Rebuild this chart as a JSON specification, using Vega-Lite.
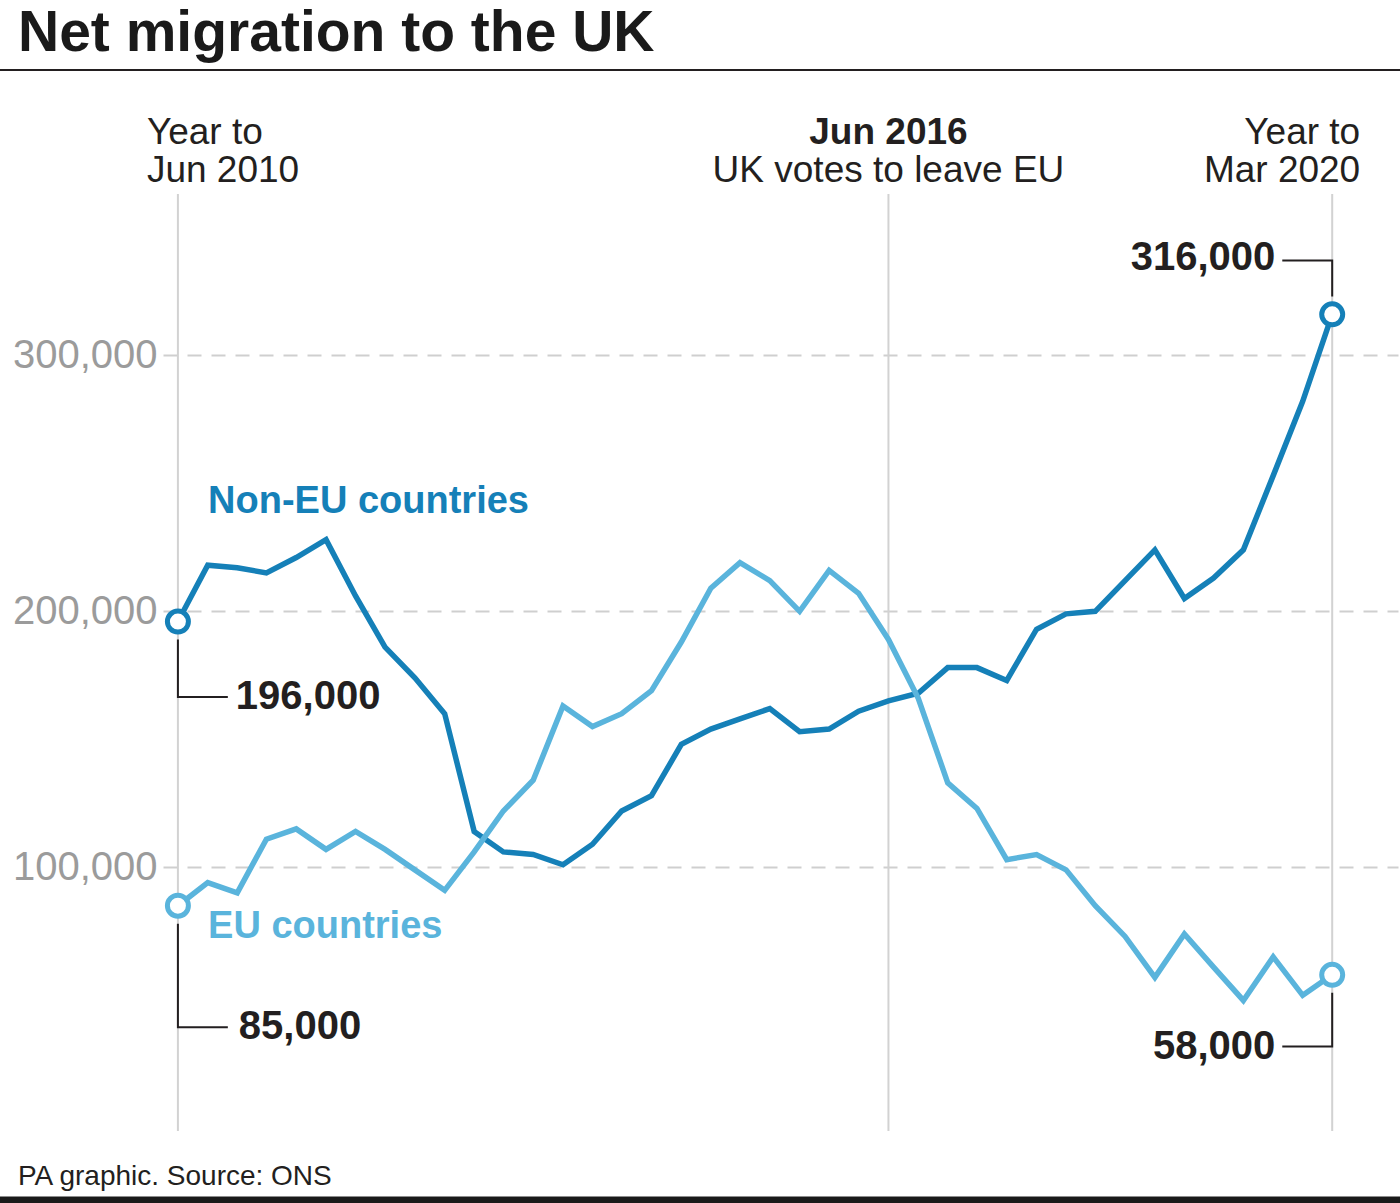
{
  "$schema": "https://vega.github.io/schema/vega-lite/v6.json",
  "width": 1235,
  "height": 937,
  "autosize": {"type": "none"},
  "padding": {"left": 163, "top": 194, "right": 2, "bottom": 72},
  "background": "#ffffff",
  "config": {
    "view": {"stroke": null},
    "font": "Liberation Sans",
    "axisY": {"labelFontSize": 40, "labelColor": "#9b9b9b", "labelFont": "Liberation Sans", "labelExpr": "format(datum.value, ',')", "ticks": false, "domain": false, "grid": true, "gridDash": [14, 10], "gridColor": "#cfcfcf", "gridWidth": 2, "labelPadding": 6}
  },
  "title": {"text": "Net migration to the UK", "anchor": "start", "frame": "group", "dx": -145, "fontSize": 57, "fontWeight": "bold", "color": "#1a1a1a", "font": "Liberation Sans", "offset": 6},
  "datasets": {
    "migration": [
      {"date": "2010-06-01", "region": "Non-EU countries", "value": 196000},
      {"date": "2010-09-01", "region": "Non-EU countries", "value": 218000},
      {"date": "2010-12-01", "region": "Non-EU countries", "value": 217000},
      {"date": "2011-03-01", "region": "Non-EU countries", "value": 215000},
      {"date": "2011-06-01", "region": "Non-EU countries", "value": 221000},
      {"date": "2011-09-01", "region": "Non-EU countries", "value": 228000},
      {"date": "2011-12-01", "region": "Non-EU countries", "value": 206000},
      {"date": "2012-03-01", "region": "Non-EU countries", "value": 186000},
      {"date": "2012-06-01", "region": "Non-EU countries", "value": 174000},
      {"date": "2012-09-01", "region": "Non-EU countries", "value": 160000},
      {"date": "2012-12-01", "region": "Non-EU countries", "value": 114000},
      {"date": "2013-03-01", "region": "Non-EU countries", "value": 106000},
      {"date": "2013-06-01", "region": "Non-EU countries", "value": 105000},
      {"date": "2013-09-01", "region": "Non-EU countries", "value": 101000},
      {"date": "2013-12-01", "region": "Non-EU countries", "value": 109000},
      {"date": "2014-03-01", "region": "Non-EU countries", "value": 122000},
      {"date": "2014-06-01", "region": "Non-EU countries", "value": 128000},
      {"date": "2014-09-01", "region": "Non-EU countries", "value": 148000},
      {"date": "2014-12-01", "region": "Non-EU countries", "value": 154000},
      {"date": "2015-03-01", "region": "Non-EU countries", "value": 158000},
      {"date": "2015-06-01", "region": "Non-EU countries", "value": 162000},
      {"date": "2015-09-01", "region": "Non-EU countries", "value": 153000},
      {"date": "2015-12-01", "region": "Non-EU countries", "value": 154000},
      {"date": "2016-03-01", "region": "Non-EU countries", "value": 161000},
      {"date": "2016-06-01", "region": "Non-EU countries", "value": 165000},
      {"date": "2016-09-01", "region": "Non-EU countries", "value": 168000},
      {"date": "2016-12-01", "region": "Non-EU countries", "value": 178000},
      {"date": "2017-03-01", "region": "Non-EU countries", "value": 178000},
      {"date": "2017-06-01", "region": "Non-EU countries", "value": 173000},
      {"date": "2017-09-01", "region": "Non-EU countries", "value": 193000},
      {"date": "2017-12-01", "region": "Non-EU countries", "value": 199000},
      {"date": "2018-03-01", "region": "Non-EU countries", "value": 200000},
      {"date": "2018-06-01", "region": "Non-EU countries", "value": 212000},
      {"date": "2018-09-01", "region": "Non-EU countries", "value": 224000},
      {"date": "2018-12-01", "region": "Non-EU countries", "value": 205000},
      {"date": "2019-03-01", "region": "Non-EU countries", "value": 213000},
      {"date": "2019-06-01", "region": "Non-EU countries", "value": 224000},
      {"date": "2019-09-01", "region": "Non-EU countries", "value": 253000},
      {"date": "2019-12-01", "region": "Non-EU countries", "value": 282000},
      {"date": "2020-03-01", "region": "Non-EU countries", "value": 316000},
      {"date": "2010-06-01", "region": "EU countries", "value": 85000},
      {"date": "2010-09-01", "region": "EU countries", "value": 94000},
      {"date": "2010-12-01", "region": "EU countries", "value": 90000},
      {"date": "2011-03-01", "region": "EU countries", "value": 111000},
      {"date": "2011-06-01", "region": "EU countries", "value": 115000},
      {"date": "2011-09-01", "region": "EU countries", "value": 107000},
      {"date": "2011-12-01", "region": "EU countries", "value": 114000},
      {"date": "2012-03-01", "region": "EU countries", "value": 107000},
      {"date": "2012-06-01", "region": "EU countries", "value": 99000},
      {"date": "2012-09-01", "region": "EU countries", "value": 91000},
      {"date": "2012-12-01", "region": "EU countries", "value": 106000},
      {"date": "2013-03-01", "region": "EU countries", "value": 122000},
      {"date": "2013-06-01", "region": "EU countries", "value": 134000},
      {"date": "2013-09-01", "region": "EU countries", "value": 163000},
      {"date": "2013-12-01", "region": "EU countries", "value": 155000},
      {"date": "2014-03-01", "region": "EU countries", "value": 160000},
      {"date": "2014-06-01", "region": "EU countries", "value": 169000},
      {"date": "2014-09-01", "region": "EU countries", "value": 188000},
      {"date": "2014-12-01", "region": "EU countries", "value": 209000},
      {"date": "2015-03-01", "region": "EU countries", "value": 219000},
      {"date": "2015-06-01", "region": "EU countries", "value": 212000},
      {"date": "2015-09-01", "region": "EU countries", "value": 200000},
      {"date": "2015-12-01", "region": "EU countries", "value": 216000},
      {"date": "2016-03-01", "region": "EU countries", "value": 207000},
      {"date": "2016-06-01", "region": "EU countries", "value": 189000},
      {"date": "2016-09-01", "region": "EU countries", "value": 166000},
      {"date": "2016-12-01", "region": "EU countries", "value": 133000},
      {"date": "2017-03-01", "region": "EU countries", "value": 123000},
      {"date": "2017-06-01", "region": "EU countries", "value": 103000},
      {"date": "2017-09-01", "region": "EU countries", "value": 105000},
      {"date": "2017-12-01", "region": "EU countries", "value": 99000},
      {"date": "2018-03-01", "region": "EU countries", "value": 85000},
      {"date": "2018-06-01", "region": "EU countries", "value": 73000},
      {"date": "2018-09-01", "region": "EU countries", "value": 57000},
      {"date": "2018-12-01", "region": "EU countries", "value": 74000},
      {"date": "2019-03-01", "region": "EU countries", "value": 61000},
      {"date": "2019-06-01", "region": "EU countries", "value": 48000},
      {"date": "2019-09-01", "region": "EU countries", "value": 65000},
      {"date": "2019-12-01", "region": "EU countries", "value": 50000},
      {"date": "2020-03-01", "region": "EU countries", "value": 58000}
    ],
    "events": [
      {"date": "2010-06-01", "event": "Year to Jun 2010"},
      {"date": "2016-06-01", "event": "UK votes to leave EU"},
      {"date": "2020-03-01", "event": "Year to Mar 2020"}
    ],
    "leaders": [
      {"leader": "196,000", "step": 1, "date": "2010-06-01", "value": 189000},
      {"leader": "196,000", "step": 2, "date": "2010-06-01", "value": 166500},
      {"leader": "196,000", "step": 3, "date": "2010-11-02", "value": 166500},
      {"leader": "85,000", "step": 1, "date": "2010-06-01", "value": 78000},
      {"leader": "85,000", "step": 2, "date": "2010-06-01", "value": 37500},
      {"leader": "85,000", "step": 3, "date": "2010-11-02", "value": 37500},
      {"leader": "316,000", "step": 1, "date": "2019-09-29", "value": 337000},
      {"leader": "316,000", "step": 2, "date": "2020-03-01", "value": 337000},
      {"leader": "316,000", "step": 3, "date": "2020-03-01", "value": 323000},
      {"leader": "58,000", "step": 1, "date": "2020-03-01", "value": 51000},
      {"leader": "58,000", "step": 2, "date": "2020-03-01", "value": 30000},
      {"leader": "58,000", "step": 3, "date": "2019-09-29", "value": 30000}
    ],
    "seriesLabels": [
      {"region": "Non-EU countries", "date": "2010-09-02", "value": 242600},
      {"region": "EU countries", "date": "2010-09-02", "value": 76700}
    ]
  },
  "layer": [
    {
      "data": {"name": "events"},
      "mark": {"type": "rule", "color": "#d2d2d2", "strokeWidth": 2},
      "encoding": {
        "x": {"field": "date", "type": "temporal", "axis": null, "scale": {"type": "utc", "domain": [{"year": 2010, "month": 4, "date": 16, "utc": true}, {"year": 2020, "month": 9, "date": 20, "utc": true}]}}
      }
    },
    {
      "data": {"name": "migration"},
      "mark": {"type": "line", "strokeWidth": 5.5, "strokeJoin": "miter"},
      "encoding": {
        "x": {"field": "date", "type": "temporal", "axis": null},
        "y": {"field": "value", "type": "quantitative", "title": null, "scale": {"domain": [-3000, 363000], "nice": false, "zero": false}, "axis": {"values": [100000, 200000, 300000]}},
        "color": {"field": "region", "type": "nominal", "scale": {"domain": ["Non-EU countries", "EU countries"], "range": ["#1580b8", "#5ab4dc"]}, "legend": null},
        "order": {"field": "date", "type": "temporal"}
      }
    },
    {
      "data": {"name": "migration"},
      "transform": [
        {"joinaggregate": [{"op": "min", "field": "date", "as": "d0"}, {"op": "max", "field": "date", "as": "d1"}]},
        {"filter": "time(datum.date) === time(datum.d0) || time(datum.date) === time(datum.d1)"}
      ],
      "mark": {"type": "point", "shape": "circle", "filled": false, "fill": "#ffffff", "fillOpacity": 1, "opacity": 1, "size": 441, "strokeWidth": 5},
      "encoding": {
        "x": {"field": "date", "type": "temporal", "axis": null},
        "y": {"field": "value", "type": "quantitative", "title": null},
        "color": {"field": "region", "type": "nominal", "legend": null}
      }
    },
    {
      "data": {"name": "leaders"},
      "mark": {"type": "line", "color": "#231f20", "strokeWidth": 2, "strokeJoin": "miter"},
      "encoding": {
        "x": {"field": "date", "type": "temporal", "axis": null},
        "y": {"field": "value", "type": "quantitative", "title": null},
        "detail": {"field": "leader"},
        "order": {"field": "step", "type": "quantitative"}
      }
    },
    {
      "data": {"name": "seriesLabels"},
      "mark": {"type": "text", "align": "left", "baseline": "middle", "fontSize": 38, "fontWeight": "bold", "font": "Liberation Sans"},
      "encoding": {
        "x": {"field": "date", "type": "temporal", "axis": null},
        "y": {"field": "value", "type": "quantitative", "title": null},
        "text": {"field": "region"},
        "color": {"field": "region", "type": "nominal", "legend": null}
      }
    },
    {
      "data": {"values": [{}]},
      "mark": {"type": "text", "align": "left", "baseline": "middle", "fontSize": 40, "fontWeight": "bold", "color": "#231f20", "dx": 8, "text": "196,000"},
      "encoding": {
        "x": {"datum": {"year": 2010, "month": 11, "date": 2, "utc": true}, "type": "temporal", "axis": null},
        "y": {"datum": 166500, "type": "quantitative"}
      }
    },
    {
      "data": {"values": [{}]},
      "mark": {"type": "text", "align": "left", "baseline": "middle", "fontSize": 40, "fontWeight": "bold", "color": "#231f20", "dx": 11, "text": "85,000"},
      "encoding": {
        "x": {"datum": {"year": 2010, "month": 11, "date": 2, "utc": true}, "type": "temporal", "axis": null},
        "y": {"datum": 37500, "type": "quantitative"}
      }
    },
    {
      "data": {"values": [{}]},
      "mark": {"type": "text", "align": "right", "baseline": "middle", "fontSize": 40, "fontWeight": "bold", "color": "#231f20", "dx": -7, "dy": -3, "text": "316,000"},
      "encoding": {
        "x": {"datum": {"year": 2019, "month": 9, "date": 29, "utc": true}, "type": "temporal", "axis": null},
        "y": {"datum": 337000, "type": "quantitative"}
      }
    },
    {
      "data": {"values": [{}]},
      "mark": {"type": "text", "align": "right", "baseline": "middle", "fontSize": 40, "fontWeight": "bold", "color": "#231f20", "dx": -7, "text": "58,000"},
      "encoding": {
        "x": {"datum": {"year": 2019, "month": 9, "date": 29, "utc": true}, "type": "temporal", "axis": null},
        "y": {"datum": 30000, "type": "quantitative"}
      }
    },
    {
      "data": {"values": [{}]},
      "mark": {"type": "text", "align": "left", "baseline": "alphabetic", "fontSize": 37, "lineHeight": 38, "color": "#231f20", "dx": -31, "text": ["Year to", "Jun 2010"]},
      "encoding": {
        "x": {"datum": {"year": 2010, "month": 6, "date": 1, "utc": true}, "type": "temporal", "axis": null},
        "y": {"datum": 382500, "type": "quantitative"}
      }
    },
    {
      "data": {"values": [{}]},
      "mark": {"type": "text", "align": "right", "baseline": "alphabetic", "fontSize": 37, "lineHeight": 38, "color": "#231f20", "dx": 28, "text": ["Year to", "Mar 2020"]},
      "encoding": {
        "x": {"datum": {"year": 2020, "month": 3, "date": 1, "utc": true}, "type": "temporal", "axis": null},
        "y": {"datum": 382500, "type": "quantitative"}
      }
    },
    {
      "data": {"values": [{}]},
      "mark": {"type": "text", "align": "center", "baseline": "alphabetic", "fontSize": 37, "fontWeight": "bold", "color": "#231f20", "text": "Jun 2016"},
      "encoding": {
        "x": {"datum": {"year": 2016, "month": 6, "date": 1, "utc": true}, "type": "temporal", "axis": null},
        "y": {"datum": 382500, "type": "quantitative"}
      }
    },
    {
      "data": {"values": [{}]},
      "mark": {"type": "text", "align": "center", "baseline": "alphabetic", "fontSize": 37, "color": "#231f20", "text": "UK votes to leave EU"},
      "encoding": {
        "x": {"datum": {"year": 2016, "month": 6, "date": 1, "utc": true}, "type": "temporal", "axis": null},
        "y": {"datum": 367700, "type": "quantitative"}
      }
    },
    {
      "data": {"values": [{}]},
      "mark": {"type": "rule", "color": "#231f20", "strokeWidth": 2},
      "encoding": {
        "x": {"datum": {"year": 2007, "month": 1, "date": 1, "utc": true}, "type": "temporal", "axis": null},
        "x2": {"datum": {"year": 2022, "month": 1, "date": 1, "utc": true}},
        "y": {"datum": 411400, "type": "quantitative"}
      }
    },
    {
      "data": {"values": [{}]},
      "mark": {"type": "rule", "color": "#1a1a1a", "strokeWidth": 7},
      "encoding": {
        "x": {"datum": {"year": 2007, "month": 1, "date": 1, "utc": true}, "type": "temporal", "axis": null},
        "x2": {"datum": {"year": 2022, "month": 1, "date": 1, "utc": true}},
        "y": {"datum": -30000, "type": "quantitative"}
      }
    },
    {
      "data": {"values": [{}]},
      "mark": {"type": "text", "align": "left", "baseline": "alphabetic", "fontSize": 28, "color": "#231f20", "dx": -160, "text": "PA graphic. Source: ONS"},
      "encoding": {
        "x": {"datum": {"year": 2010, "month": 6, "date": 1, "utc": true}, "type": "temporal", "axis": null},
        "y": {"datum": -24100, "type": "quantitative"}
      }
    }
  ]
}
